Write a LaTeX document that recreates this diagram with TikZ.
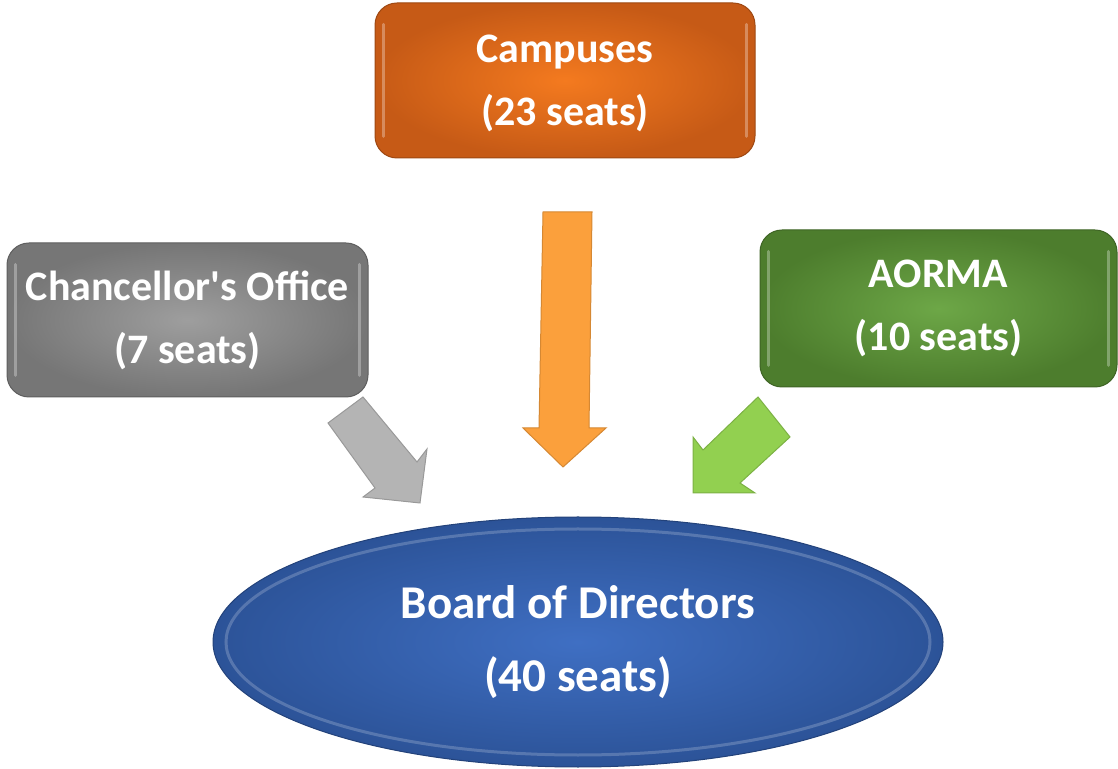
\documentclass[tikz,border=0pt]{standalone}
\usepackage{fontspec}
\setmainfont{Carlito}[Ligatures=TeXOff]
\usetikzlibrary{shapes.geometric}
\definecolor{orC}{HTML}{F47A1F}
\definecolor{orE}{HTML}{C65A16}
\definecolor{grC}{HTML}{9E9E9E}
\definecolor{grE}{HTML}{767676}
\definecolor{gnC}{HTML}{6DA747}
\definecolor{gnE}{HTML}{4D7D2D}
\definecolor{blC}{HTML}{3F6FC3}
\definecolor{blE}{HTML}{2C5398}
\definecolor{grA}{HTML}{B4B4B4}
\definecolor{orA}{HTML}{FBA03C}
\definecolor{gnA}{HTML}{92D050}
\begin{document}
\begin{tikzpicture}[x=1pt,y=1pt,
  boxshape/.style 2 args={rectangle, rounded corners=22pt, inner sep=0pt,
    shading=radial, inner color=#1, outer color=#2, draw=#2!80!black, line width=1pt},
  boxtext/.style={text=white, align=center, inner sep=0pt, font=\fontsize{42}{63}\selectfont\bfseries},
  ovalshape/.style 2 args={ellipse, inner sep=0pt,
    shading=radial, inner color=#1, outer color=#2, draw=#2!80!black, line width=1pt,
    text=white, align=center, font=\fontsize{47}{73}\selectfont\bfseries},
  bevel/.style={draw=white, opacity=0.3, line width=3pt, line cap=round},
  blockarrow/.style={fill=#1, draw=#1!85!black, line width=1pt, line join=miter}
]
\useasboundingbox (0,0) rectangle (1118,768);

% boxes
\node[boxshape={orC}{orE}, minimum width=380pt, minimum height=155pt] (camp) at (565,687.5) {};
\node[boxshape={grC}{grE}, minimum width=361pt, minimum height=154pt] (chan) at (187.5,448) {};
\node[boxshape={gnC}{gnE}, minimum width=357pt, minimum height=157pt] (aorma) at (938.5,459.5) {};
\node[ovalshape={blC}{blE}, minimum width=730pt, minimum height=250pt] (bod) at (578,126) {Board of Directors\\(40 seats)};

% bevel highlights (left and right edges)
\foreach \n in {camp,chan,aorma}{
  \draw[bevel] ([shift={(9,22)}]\n.south west) -- ([shift={(9,-22)}]\n.north west);
  \draw[bevel] ([shift={(-9,22)}]\n.south east) -- ([shift={(-9,-22)}]\n.north east);
}
\draw[bevel, opacity=0.2] (bod.center) ellipse [x radius=352pt, y radius=113pt];

% box texts
\node[boxtext] (camptxt) at ([yshift=-3pt]camp.center) {Campuses\\(23 seats)};
\node[boxtext] (chantxt) at (chan.center) {Chancellor's Office\\(7 seats)};
\node[boxtext] (aormatxt) at (aorma.center) {AORMA\\(10 seats)};

% block arrows
\draw[blockarrow=grA] (328,345) -- (363,371) -- (417,306) -- (427,319) -- (420,265) -- (363,271) -- (375,280) -- cycle;
\draw[blockarrow=orA] (543,556) -- (592,556) -- (589,340) -- (606,340) -- (563,301) -- (523,340) -- (539,340) -- cycle;
\draw[blockarrow=gnA] (758,371) -- (790,331) -- (740,285) -- (755,275) -- (693,275) -- (693,331) -- (703,318) -- cycle;
\end{tikzpicture}
\end{document}
